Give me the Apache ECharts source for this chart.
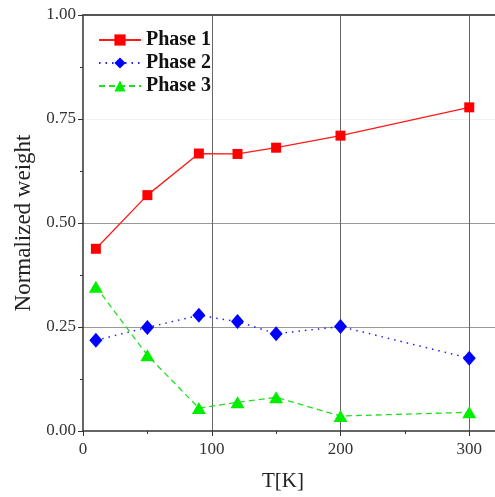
<!DOCTYPE html>
<html><head><meta charset="utf-8">
<script src="https://cdn.jsdelivr.net/npm/echarts@6/dist/echarts.min.js"></script>
<style>html,body{margin:0;padding:0;background:#fff}#c{width:495px;height:497px}</style>
</head><body><div id="c"></div>
<script>
const temps = [10, 50, 90, 120, 150, 200, 300];
const phase1 = [0.438, 0.567, 0.667, 0.666, 0.681, 0.710, 0.778];
const phase2 = [0.218, 0.249, 0.278, 0.263, 0.234, 0.251, 0.175];
const phase3 = [0.347, 0.182, 0.055, 0.069, 0.081, 0.036, 0.045];
const yTickLabels = ['0.00', '0.25', '0.50', '0.75', '1.00'];
const seriesNames = ['Phase 1', 'Phase 2', 'Phase 3'];

const pair = (ys) => temps.map((t, i) => [t, ys[i]]);
const serif = 'Liberation Serif';
const chart = echarts.init(document.getElementById('c'));
chart.setOption({
  animation: false,
  grid: {left: 83, top: 15, right: 0, bottom: 64},
  legend: {
    orient: 'vertical', left: 93, top: 25, itemGap: 3, itemWidth: 42, itemHeight: 14,
    textStyle: {fontFamily: serif, fontWeight: 'bold', fontSize: 20, color: '#111'},
    data: seriesNames
  },
  xAxis: [{
    type: 'value', min: 0, max: 320, interval: 100,
    name: 'T[K]', nameLocation: 'middle', nameGap: 40,
    nameTextStyle: {fontFamily: serif, fontSize: 21, color: '#222', padding: [0, 12, 0, 0]},
    axisLine: {onZero: false, lineStyle: {color: '#333', width: 1.5}},
    axisTick: {inside: false, length: 5, lineStyle: {color: '#333'}},
    minorTick: {show: true, splitNumber: 2, length: 3, lineStyle: {color: '#333'}},
    axisLabel: {fontFamily: serif, fontSize: 17, color: '#333', showMaxLabel: false, margin: 10},
    splitLine: {show: true, lineStyle: {color: ['transparent', '#666', '#666', '#666'], width: 1}}
  }, {
    type: 'value', position: 'top', min: 0, max: 320,
    axisLine: {show: true, onZero: false, lineStyle: {color: '#555', width: 2}},
    axisTick: {show: false}, axisLabel: {show: false}, splitLine: {show: false}
  }],
  yAxis: {
    type: 'value', min: 0, max: 1, interval: 0.25,
    name: 'Normalized weight', nameLocation: 'middle', nameGap: 47,
    nameTextStyle: {fontFamily: serif, fontSize: 23, color: '#222'},
    axisLine: {show: true, lineStyle: {color: '#333', width: 1.5}},
    axisTick: {show: true, inside: false, length: 5, lineStyle: {color: '#333'}},
    minorTick: {show: true, splitNumber: 2, length: 3, lineStyle: {color: '#333'}},
    axisLabel: {fontFamily: serif, fontSize: 17, color: '#333', margin: 7,
      formatter: (v) => yTickLabels[Math.round(v / 0.25)]},
    splitLine: {show: true, lineStyle: {color: ['transparent', '#999', '#999', '#f0f0f0', 'transparent'], width: 1}}
  },
  series: [{
    name: seriesNames[0], type: 'line', data: pair(phase1),
    symbol: 'rect', symbolSize: 10,
    lineStyle: {color: '#ff1a1a', width: 1.3}, itemStyle: {color: '#ff0000'}
  }, {
    name: seriesNames[1], type: 'line', data: pair(phase2),
    symbol: 'diamond', symbolSize: [13, 15],
    lineStyle: {color: '#2020ff', width: 1.5, type: [1.5, 5]}, itemStyle: {color: '#0000ff'}
  }, {
    name: seriesNames[2], type: 'line', data: pair(phase3),
    symbol: 'triangle', symbolSize: [14, 12],
    lineStyle: {color: '#22dd22', width: 1.3, type: [6, 4]}, itemStyle: {color: '#00ee00'}
  }]
});
</script></body></html>
